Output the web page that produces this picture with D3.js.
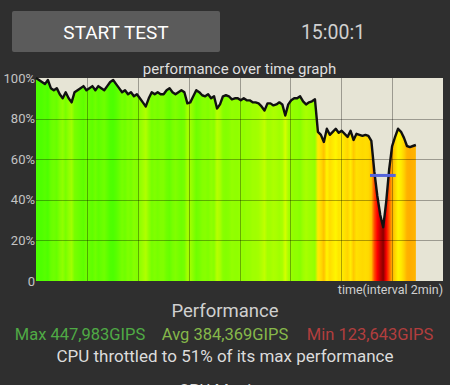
<!DOCTYPE html>
<html><head><meta charset="utf-8">
<script src="https://cdn.jsdelivr.net/npm/d3@7"></script>
<style>html,body{margin:0;padding:0;background:#2f2f2f;}svg{display:block;}</style>
</head><body>
<script>
// ---- data ----
const sampleSeconds = 7;              // one sample every 7 s
const perfPct = [100,99,98,97,99,95,94,95,92,90,93,90,88,93,94,95,96,94,95,96,
  94,96,95,94,96,98,99,97,95,93,94,92,93,91,92,90,88,86,90,93,
  92,93,92,92,94,95,93,92,93,94,93,87.5,88,91,94,93,91.5,91,92,90,
  91,85,87,91,91.5,91,89.5,90,90,89,90,89,89,88,88,87.5,86,84,87.5,87.5,
  86.5,87,88,87,81.5,87,89,90,90,91,88.5,87,88,88.5,89.5,73.5,72,68.5,75,72,
  73.5,75,73,74,72.5,71,74,69.5,72.5,72,71.5,72,71.5,69,54,42,32.5,26.5,39,55,
  66.5,71,75,73.5,70.5,66.5,66,66.5,67];
const yTicks = [0,20,40,60,80,100];
const xTicksMin = [0,2,4,6,8,10,12,14,16];
const markValue = 52;                 // blue marker level (%)
const markRangeMin = [13.13,14.14];   // blue marker time span (min)
const statLabels = ["Max 447,983GIPS","Avg 384,369GIPS","Min 123,643GIPS"];
const statColors = ["#4faa45","#86b84a","#b23e3e"];

const data = perfPct.map((v,i)=>({t:i*sampleSeconds/60, v}));

const W=450,H=385;
const FONT="Roboto, 'Noto Sans', sans-serif";
const svg=d3.select("body").append("svg").attr("width",W).attr("height",H);
svg.append("rect").attr("width",W).attr("height",H).attr("fill","#2f2f2f");

// header
svg.append("rect").attr("x",12).attr("y",11).attr("width",208).attr("height",41)
  .attr("rx",2).attr("fill","#5b5b5b");
svg.append("text").attr("x",116).attr("y",38.5).attr("text-anchor","middle")
  .attr("font-family",FONT).attr("font-size",19)
  .attr("fill","#ffffff").text("START TEST");
svg.append("text").attr("x",333).attr("y",38.5).attr("text-anchor","middle")
  .attr("font-family",FONT).attr("font-size",19.5)
  .attr("fill","#d0d0d0").text("15:00:1");

const L=36,R=443,T=78,B=281;
const x=d3.scaleLinear().domain([0,16]).range([L,R]);
const y=d3.scaleLinear().domain([0,100]).range([B,T]);

svg.append("text").attr("x",(L+R)/2).attr("y",73.5).attr("text-anchor","middle")
  .attr("font-family",FONT).attr("font-size",15)
  .attr("fill","#dedede").text("performance over time graph");

// plot background
svg.append("rect").attr("x",L).attr("y",T).attr("width",R-L).attr("height",B-T).attr("fill","#e6e4d5");

function col(v){
  const h=Math.max(0,Math.min(102,52+(v-72)*1.9));
  const l=v>=40?50:Math.max(24,50-(40-v)*1.7);
  return d3.hsl(h,1,l/100).formatHex();
}
const defs=svg.append("defs");
const grad=defs.append("linearGradient").attr("id","g").attr("gradientUnits","userSpaceOnUse")
  .attr("x1",L).attr("x2",R).attr("y1",0).attr("y2",0);
data.forEach(d=>{
  grad.append("stop").attr("offset",((x(d.t)-L)/(R-L)).toFixed(5)).attr("stop-color",col(d.v));
});

svg.append("path").datum(data)
  .attr("d",d3.area().x(d=>x(d.t)).y0(y(0)).y1(d=>y(d.v)))
  .attr("fill","url(#g)");

// grid
const grid=svg.append("g").attr("stroke","rgba(0,0,0,0.32)").attr("stroke-width",1);
yTicks.filter(v=>v>0&&v<100).forEach(v=>{
  grid.append("line").attr("x1",L).attr("x2",R).attr("y1",Math.round(y(v))+0.5).attr("y2",Math.round(y(v))+0.5);
});
xTicksMin.filter(t=>t>0&&t<16).forEach(t=>{
  grid.append("line").attr("y1",T).attr("y2",B).attr("x1",Math.round(x(t))+0.5).attr("x2",Math.round(x(t))+0.5);
});

// line
svg.append("path").datum(data)
  .attr("d",d3.line().x(d=>x(d.t)).y(d=>y(d.v)))
  .attr("fill","none").attr("stroke","#111").attr("stroke-width",2.4).attr("stroke-linejoin","round");

// blue marker
svg.append("line").attr("x1",x(markRangeMin[0])).attr("x2",x(markRangeMin[1]))
  .attr("y1",y(markValue)).attr("y2",y(markValue))
  .attr("stroke","#5563dc").attr("stroke-width",3);

// y axis labels
const yAxis=d3.axisLeft(y).tickValues(yTicks).tickSize(0).tickPadding(1)
  .tickFormat(v=>v===0?"0":v+"%");
const ga=svg.append("g").attr("transform",`translate(${L},0)`).call(yAxis);
ga.select(".domain").remove();
ga.selectAll("text").attr("font-family",FONT)
  .attr("font-size",13).attr("fill","#c4c4c4");

svg.append("text").attr("x",R).attr("y",294).attr("text-anchor","end")
  .attr("font-family",FONT).attr("font-size",12.5)
  .attr("fill","#cfcfcf").text("time(interval 2min)");

// bottom texts
svg.append("text").attr("x",225).attr("y",317).attr("text-anchor","middle")
  .attr("font-family",FONT).attr("font-size",18.5)
  .attr("fill","#d0d0d0").text("Performance");
const statX=[80,225,370];
statLabels.forEach((s,i)=>{
  svg.append("text").attr("x",statX[i]).attr("y",339.5).attr("text-anchor","middle")
    .attr("font-family",FONT).attr("font-size",16.5)
    .attr("fill",statColors[i]).text(s);
});
svg.append("text").attr("x",225).attr("y",362).attr("text-anchor","middle")
  .attr("font-family",FONT).attr("font-size",17)
  .attr("fill","#dcdcdc").text("CPU throttled to 51% of its max performance");
svg.append("text").attr("x",225).attr("y",396).attr("text-anchor","middle")
  .attr("font-family",FONT).attr("font-size",16.5)
  .attr("fill","#dcdcdc").text("CPU Monitor");
</script>
</body></html>
